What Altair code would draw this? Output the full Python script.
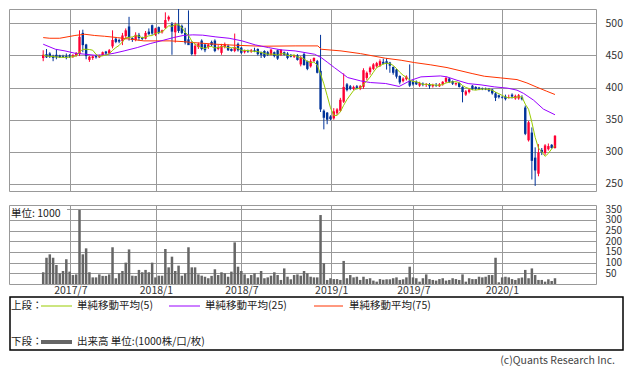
import altair as alt
import pandas as pd

# ---------------- data (weekly candles) ----------------
opens = [446, 452, 453, 449, 451, 450, 449, 449, 450, 448,
         450, 452, 485, 467, 443, 446, 449, 447, 450, 456,
         453, 464, 476, 474, 472, 480, 495, 477, 474, 482,
         477, 476, 487, 497, 482, 494, 486, 493, 506, 499,
         486, 498, 496, 485, 475, 470, 452, 463, 473, 467,
         463, 471, 473, 460, 454, 463, 465, 460, 457, 468,
         462, 455, 457, 456, 458, 460, 455, 457, 455, 451,
         455, 458, 451, 455, 453, 451, 448, 450, 436, 452,
         441, 433, 441, 441, 426, 364, 361, 355, 352, 360,
         364, 378, 405, 402, 398, 402, 398, 401, 415, 424,
         429, 433, 434, 440, 441, 439, 432, 428, 418, 410,
         413, 411, 410, 409, 403, 406, 404, 405, 402, 404,
         402, 405, 409, 414, 410, 405, 407, 401, 389, 393,
         403, 401, 400, 399, 398, 398, 397, 391, 388, 385,
         386, 384, 389, 383, 383, 385, 369, 318, 330, 291,
         266, 303, 298, 304, 311, 306]
highs = [458, 460, 455, 451, 460, 451, 451, 453, 452, 452,
         455, 489, 490, 468, 449, 450, 451, 451, 456, 457,
         460, 489, 478, 476, 485, 492, 510, 478, 486, 485,
         479, 488, 492, 498, 493, 495, 490, 517, 512, 502,
         501, 525, 498, 493, 520, 472, 468, 470, 475, 468,
         468, 473, 475, 466, 468, 470, 467, 461, 484, 470,
         463, 459, 459, 460, 462, 461, 456, 458, 457, 460,
         456, 459, 460, 456, 455, 452, 451, 452, 449, 454,
         442, 444, 447, 443, 482, 366, 362, 357, 368, 368,
         384, 422, 407, 404, 403, 404, 404, 430, 425, 433,
         438, 440, 444, 445, 446, 440, 433, 429, 419, 416,
         419, 436, 412, 411, 409, 408, 407, 407, 406, 407,
         407, 410, 417, 415, 411, 408, 408, 402, 396, 398,
         404, 402, 401, 400, 400, 399, 398, 393, 389, 387,
         389, 389, 391, 389, 390, 388, 372, 348, 338, 307,
         312, 306, 312, 313, 312, 326]
lows = [441, 446, 446, 441, 444, 446, 446, 444, 446, 446,
        448, 449, 455, 444, 440, 443, 445, 446, 449, 452,
        452, 461, 469, 469, 466, 475, 473, 471, 472, 473,
        474, 475, 482, 482, 480, 483, 484, 491, 503, 451,
        470, 485, 483, 467, 467, 450, 449, 460, 458, 455,
        460, 464, 455, 458, 451, 461, 457, 456, 455, 456,
        452, 453, 454, 454, 455, 450, 446, 446, 449, 450,
        447, 443, 449, 450, 444, 447, 446, 442, 433, 434,
        427, 431, 440, 422, 362, 335, 343, 349, 350, 357,
        362, 376, 394, 396, 396, 397, 396, 398, 412, 420,
        427, 431, 432, 436, 428, 423, 420, 414, 405, 408,
        411, 401, 403, 404, 401, 402, 401, 398, 400, 401,
        401, 403, 407, 407, 404, 403, 400, 377, 387, 391,
        396, 396, 396, 396, 396, 393, 389, 379, 383, 383,
        380, 383, 383, 381, 381, 380, 326, 316, 257, 247,
        262, 295, 295, 302, 305, 305]
closes = [451, 447, 448, 446, 447, 447, 447.5, 447, 448, 450,
          454, 479, 466, 449, 448, 448.5, 447, 449, 455, 453,
          458, 474, 471, 471.5, 481, 489, 478, 474, 482, 477,
          475.5, 485, 483, 484, 492, 485, 489, 505, 510, 487,
          498, 488, 485, 470, 466, 452, 465, 468, 460, 458,
          467, 466, 457, 463, 465, 467, 458, 457, 463, 458,
          454, 457, 456, 458, 456.5, 452, 451, 448, 451, 459,
          449, 445, 459, 451, 446, 448, 450, 443, 447, 435,
          429, 441, 446, 423, 366, 353, 350, 351, 363, 366,
          381, 401, 396, 398, 401, 398, 402, 427, 423, 431,
          436, 438, 441, 437, 437, 434, 423, 417, 408, 414,
          417, 403, 405, 405, 407, 404, 405, 402, 404, 403,
          405, 409, 415, 409, 406, 407, 401, 393, 394, 397,
          398, 398, 398, 397.5, 397, 395, 391, 384, 385, 384,
          382, 385, 386, 387, 388, 382, 328, 346, 286, 271,
          299, 299, 310, 309, 306, 325]
volumes = [55, 123, 139, 123, 89, 50, 61, 116, 58, 42,
           45, 347, 139, 167, 55, 31, 31, 45, 38, 38,
           45, 172, 27, 50, 61, 100, 162, 39, 38, 66,
           55, 66, 55, 100, 31, 39, 39, 164, 78, 128,
           61, 86, 39, 50, 172, 78, 78, 45, 39, 34,
           27, 38, 69, 42, 55, 50, 34, 58, 195, 81,
           61, 45, 27, 42, 50, 31, 61, 27, 31, 39,
           55, 42, 19, 73, 34, 22, 42, 45, 39, 61,
           50, 34, 31, 31, 323, 97, 19, 27, 23, 23,
           19, 108, 27, 42, 31, 34, 19, 34, 23, 27,
           16, 11, 23, 20, 22, 22, 27, 31, 19, 22,
           31, 81, 31, 27, 11, 27, 45, 23, 19, 16,
           23, 27, 16, 19, 27, 23, 19, 45, 11, 27,
           23, 23, 34, 31, 34, 42, 42, 123, 8, 31,
           34, 31, 23, 19, 27, 30, 66, 27, 73, 42,
           19, 19, 11, 22, 14, 27]

ma25_idx = [0, 3.7, 6.6, 9.6, 12.6, 15.6, 18.6, 21.5, 24.5, 28.5, 32.4, 36.4,
            39.4, 42.4, 45.3, 48.3, 52.3, 56.3, 60.2, 64.2, 68.2, 72.1, 76.3,
            79.3, 82.2, 84.2, 86.2, 88.2, 90.2, 92.2, 96.1, 99.1, 103.7, 107.8,
            111.4, 114.4, 120.3, 122.3, 125.3, 128.7, 132.6, 136.6, 140.6,
            143.5, 145.5, 148.5, 151.5, 155]
ma25_val = [467.4, 459.6, 457, 453.4, 451.9, 450.3, 450.8, 453.4, 457, 462.2,
            468.4, 473.6, 477.7, 481, 482, 481.5, 478.8, 476.7, 472.6, 466.4,
            462.2, 458.6, 457, 454.4, 451.8, 446.6, 438.9, 431, 423.4, 415.6,
            410.4, 407.8, 406.3, 401.7, 411.4, 416.6, 418.1, 416.6, 411.4,
            406.2, 404.2, 401.1, 399.1, 396, 390.9, 380.5, 366.5, 357.7]

ma75_idx = [0, 2, 5, 9.6, 12.6, 15.6, 18.6, 22.5, 26.5, 30.5, 38.4, 42.4, 45.3,
            52.3, 58.2, 66.2, 76.3, 83.2, 84.2, 90.2, 96.1, 103.7, 108.4, 112.4,
            117.4, 122.3, 129.9, 133.6, 138.6, 143.5, 146.5, 149.5, 152.5, 155]
ma75_val = [477.7, 476.7, 476.7, 481, 482.9, 481, 479.8, 477.7, 475.2, 472.6,
            472.6, 471.5, 470, 467.4, 465.8, 464.3, 464.8, 464.8, 459.6, 457,
            452.8, 445.6, 442.5, 438.9, 435.3, 431.1, 421.8, 417.6, 415, 412.4,
            407.2, 400.6, 394.3, 389.2]

tick_pos = [8.22, 34.12, 60.02, 87.23, 112.12, 138.91]
tick_labels = ["2017/7", "2018/1", "2018/7", "2019/1", "2019/7", "2020/1"]
price_ticks = [250, 300, 350, 400, 450, 500]
vol_ticks = [50, 100, 150, 200, 250, 300, 350]

legend_row1 = ["単純移動平均(5)", "単純移動平均(25)", "単純移動平均(75)"]
legend_row2 = "出来高 単位:(1000株/口/枚)"

# ---------------- styles ----------------
FONT = "Noto Sans CJK JP"
GRID = "#999999"
RED = "#FF0033"
BLUE = "#003399"
GREEN = "#99CC00"
PURPLE = "#9900FF"
ORANGE = "#FF3300"
VOLC = "#666666"
TXT = "#222222"

n = len(opens)
df = pd.DataFrame({"idx": list(range(n)), "open": opens, "high": highs,
                   "low": lows, "close": closes, "vol": volumes})
df["dir"] = ["up" if c > o else "down" for o, c in zip(opens, closes)]
df25 = pd.DataFrame({"idx": ma25_idx, "value": ma25_val})
df75 = pd.DataFrame({"idx": ma75_idx, "value": ma75_val})

x_scale = alt.Scale(domain=[-8.842, 165.91], nice=False, zero=False)
y_scale = alt.Scale(domain=[239.1, 522.2], nice=False, zero=False)

x_price_axis = alt.Axis(values=tick_pos, labels=False, ticks=False, domain=False,
                        grid=True, gridColor=GRID, gridOpacity=1, title=None)
y_price_axis = alt.Axis(orient="right", values=price_ticks, grid=True, gridColor=GRID,
                        gridOpacity=1, ticks=False, domain=False, labelFont=FONT,
                        labelFontSize=10.5, labelColor="#333333", labelPadding=9,
                        labelOverlap=False, labelBound=False, title=None)

color = alt.Color("dir:N", scale=alt.Scale(domain=["up", "down"], range=[RED, BLUE]), legend=None)
X = alt.X("idx:Q", scale=x_scale, axis=x_price_axis)


def Yp(field):
    return alt.Y(field, scale=y_scale, axis=y_price_axis)


base = alt.Chart(df)
wick = base.mark_rule(strokeWidth=1, clip=True).encode(
    x=X, y=Yp("low:Q"), y2="high:Q", color=color)
body = base.mark_bar(size=2.4, clip=True).encode(
    x=X, y=Yp("open:Q"), y2="close:Q", color=color)
ma5 = base.transform_window(
    ma5="mean(close)", frame=[-4, 0], sort=[alt.SortField("idx")]
).mark_line(color=GREEN, strokeWidth=1, clip=True).encode(x=X, y=Yp("ma5:Q"))
ma25 = alt.Chart(df25).mark_line(color=PURPLE, strokeWidth=1, clip=True).encode(
    x=X, y=Yp("value:Q"))
ma75 = alt.Chart(df75).mark_line(color=ORANGE, strokeWidth=1, clip=True).encode(
    x=X, y=Yp("value:Q"))

price = alt.layer(wick, body, ma75, ma25, ma5).properties(width=587, height=182)

# ---------------- volume panel ----------------
mids = [(a + b) / 2 for a, b in zip(tick_pos[:-1], tick_pos[1:])]
expr = f"'{tick_labels[-1]}'"
for m, lab in reversed(list(zip(mids, tick_labels[:-1]))):
    expr = f"datum.value < {m:.2f} ? '{lab}' : ({expr})"

x_vol_axis = alt.Axis(values=tick_pos, labelExpr=expr, ticks=False, domain=False,
                      grid=True, gridColor=GRID, gridOpacity=1, labelFont=FONT,
                      labelFontSize=10.5, labelColor="#333333", labelPadding=1,
                      labelFlush=False, labelOverlap=False, title=None)
y_vol_axis = alt.Axis(orient="right", values=vol_ticks, grid=True, gridColor=GRID,
                      gridOpacity=1, ticks=False, domain=False, labelFont=FONT,
                      labelFontSize=10, labelColor="#333333", labelPadding=9,
                      labelOverlap=False, labelBound=False, title=None)

vbar = base.mark_bar(size=2.5, color=VOLC).encode(
    x=alt.X("idx:Q", scale=x_scale, axis=x_vol_axis),
    y=alt.Y("vol:Q", scale=alt.Scale(domain=[0, 370], nice=False), axis=y_vol_axis))

one = alt.Data(values=[{"a": 1}])


def txt(x, y, s, align="left", size=11, col=TXT):
    return alt.Chart(one).mark_text(align=align, baseline="middle", font=FONT,
                                    fontSize=size, color=col).encode(
        x=alt.value(x), y=alt.value(y), text=alt.value(s))


def hline(x1, x2, y, col, w):
    return alt.Chart(one).mark_rule(color=col, strokeWidth=w).encode(
        x=alt.value(x1), x2=alt.value(x2), y=alt.value(y))


unit_bg = alt.Chart(one).mark_rect(color="white").encode(
    x=alt.value(1), x2=alt.value(58), y=alt.value(1), y2=alt.value(14))
unit_txt = txt(2, 8.5, "単位: 1000", size=10.5)

box = alt.Chart(one).mark_rect(fillOpacity=0, stroke="#000000", strokeWidth=1.5).encode(
    x=alt.value(1), x2=alt.value(614), y=alt.value(92), y2=alt.value(145))

deco = [
    unit_bg, unit_txt, box,
    txt(2, 101, "上段：", size=10.5),
    hline(32, 63, 101, GREEN, 1), txt(68, 101, legend_row1[0], size=10.5),
    hline(160, 191, 101, PURPLE, 1), txt(196, 101, legend_row1[1], size=10.5),
    hline(305, 334, 101, ORANGE, 1), txt(340, 101, legend_row1[2], size=10.5),
    txt(2, 137, "下段：", size=10.5),
    hline(32, 63, 137, VOLC, 4), txt(68, 137, legend_row2, size=10.5),
    txt(606, 156, "(c)Quants Research Inc.", align="right", size=10.5, col="#444444"),
]

volume = alt.layer(vbar, *deco).properties(width=587, height=79)

chart = alt.vconcat(price, volume, spacing=11).properties(
    padding={"left": 0, "top": 0, "right": 0, "bottom": 0}, background="white"
).configure_view(stroke=GRID, strokeWidth=1)

chart.save("out.html", embed_options={"renderer": "svg", "actions": False})
